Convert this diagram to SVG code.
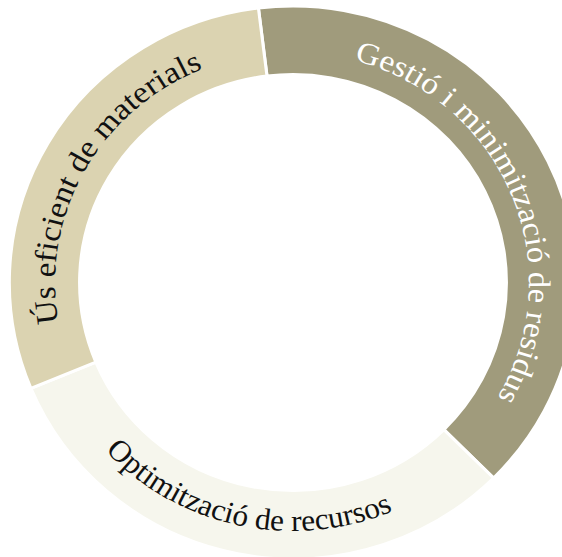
<svg xmlns="http://www.w3.org/2000/svg" width="562" height="557" viewBox="0 0 562 557">
<style>
  .seg { stroke: #ffffff; stroke-width: 3; stroke-linejoin: miter; }
  .lbl { font-family: "Liberation Serif", "Times New Roman", serif; font-size: 30.5px; }
</style>
<defs>
  <path id="p1" d="M 59.53 -222.16 A 230 230 0 0 1 188.40 131.92"/>
  <path id="p2" d="M -228.48 40.29 A 231 231 0 0 1 -71.38 -219.69"/>
  <path id="p3" d="M -182.92 168.20 A 248.5 248.5 0 0 0 124.25 215.21"/>
</defs>
<rect width="562" height="557" fill="#ffffff"/>
<g transform="translate(293 282.5) scale(1.026 1)">
  <g id="gestio">
    <path class="seg" fill="#a09b7c" d="M -33.70 -274.44 A 276.5 276.5 0 0 1 195.52 195.52 L 147.08 147.08 A 208 208 0 0 0 -25.35 -206.45 Z"/>
    <text class="lbl" fill="#ffffff"><textPath href="#p1" textLength="421.5" lengthAdjust="spacingAndGlyphs">Gestió i minimització de residus</textPath></text>
  </g>
  <g id="optimitzacio">
    <path class="seg" fill="#f6f6ed" d="M 195.52 195.52 A 276.5 276.5 0 0 1 -255.45 105.81 L -192.17 79.60 A 208 208 0 0 0 147.08 147.08 Z"/>
    <text class="lbl" fill="#111111"><textPath href="#p3" textLength="305.8" lengthAdjust="spacingAndGlyphs">Optimització de recursos</textPath></text>
  </g>
  <g id="us-eficient">
    <path class="seg" fill="#dbd3b1" d="M -255.45 105.81 A 276.5 276.5 0 0 1 -33.70 -274.44 L -25.35 -206.45 A 208 208 0 0 0 -192.17 79.60 Z"/>
    <text class="lbl" fill="#111111"><textPath href="#p2" textLength="314" lengthAdjust="spacingAndGlyphs">Ús eficient de materials</textPath></text>
  </g>
</g>
</svg>
